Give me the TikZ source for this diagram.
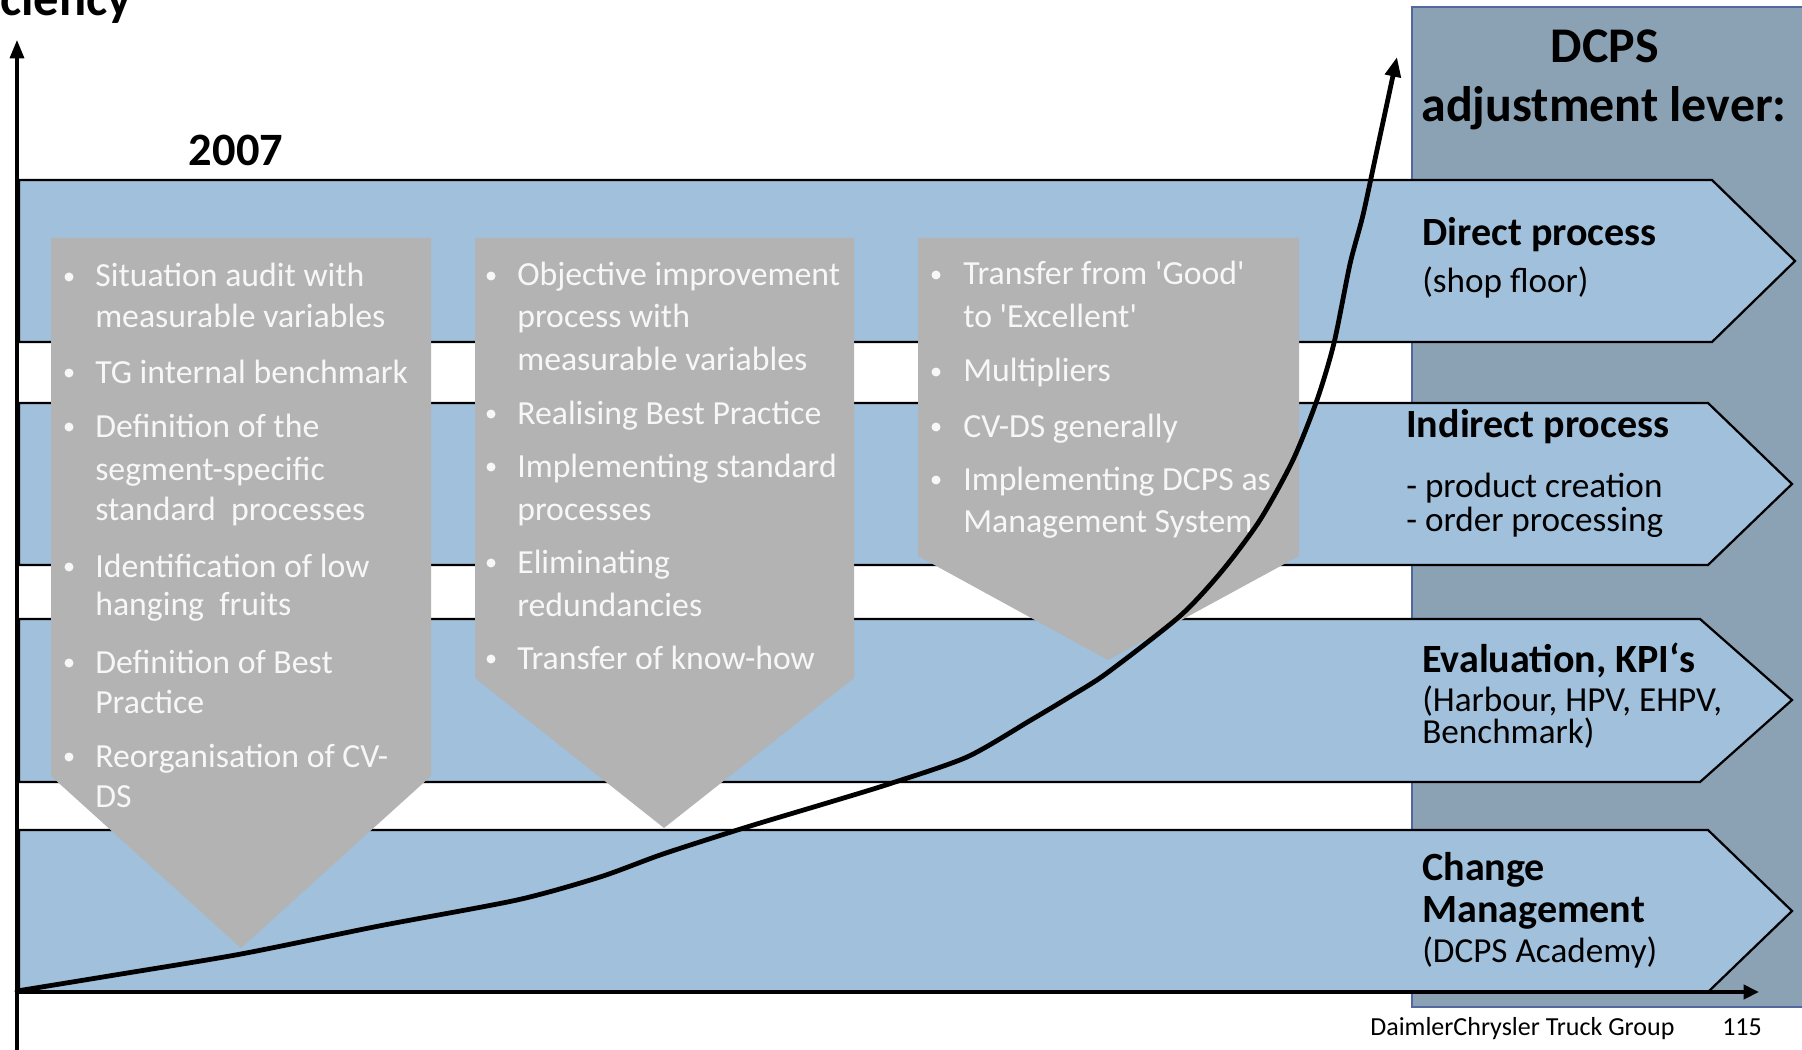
\documentclass[tikz,border=0pt]{standalone}
\usepackage{fontspec}
\setmainfont{Carlito}
\usetikzlibrary{arrows.meta}

\definecolor{bandblue}{HTML}{A0C0DC}
\definecolor{panelblue}{HTML}{8BA2B5}
\definecolor{paneledge}{HTML}{5468A0}
\definecolor{boxgrey}{HTML}{B3B3B3}
\definecolor{boxtext}{HTML}{F7F7F7}

\tikzset{
  band/.style={fill=bandblue, draw=black, line width=1.6pt, line join=miter},
  greybox/.style={fill=boxgrey},
  boxline/.style={anchor=base west, inner sep=0pt, text=boxtext,
    font=\fontsize{24}{28}\selectfont},
  bulletdot/.style={fill=boxtext},
  headline/.style={anchor=base west, inner sep=0pt,
    font=\fontsize{28.5}{34}\selectfont\bfseries},
  subline/.style={anchor=base west, inner sep=0pt,
    font=\fontsize{25}{30}\selectfont},
  titleline/.style={anchor=base, inner sep=0pt,
    font=\fontsize{35.5}{42}\selectfont\bfseries},
  footline/.style={anchor=base west, inner sep=0pt,
    font=\fontsize{18.5}{22}\selectfont},
  axis/.style={line width=2.2pt, -{Triangle[length=13pt,width=10pt]}},
  timeaxis/.style={line width=2.8pt, -{Triangle[length=11pt,width=10pt]}},
  growth/.style={line width=3.4pt, line cap=round, line join=round,
    -{Triangle[length=14pt,width=11pt]}},
}

\begin{document}
\begin{tikzpicture}[x=0.025cm, y=-0.025cm]
\useasboundingbox (0,0) rectangle (1802,1050);
\clip (0,0) rectangle (1802,1050);

% lever panel on the right
\draw[fill=panelblue, draw=paneledge, line width=1.4pt] (1412,7) rectangle (1840,1007);

% the four lever bands
\draw[band] (19,180) -- (1712,180) -- (1795,261) -- (1712,342) -- (19,342) -- cycle;
\draw[band] (19,403) -- (1708,403) -- (1792,484) -- (1708,565) -- (19,565) -- cycle;
\draw[band] (19,619) -- (1700,619) -- (1792,700) -- (1700,782) -- (19,782) -- cycle;
\draw[band] (19,830) -- (1708,830) -- (1792,911) -- (1708,992) -- (19,992) -- cycle;

% grey phase boxes
\fill[greybox] (51,238) -- (431,238) -- (431,776) -- (241,948) -- (51,776) -- cycle;
\fill[greybox] (475,238) -- (854,238) -- (854,678) -- (664,828) -- (475,678) -- cycle;
\fill[greybox] (918,238) -- (1299,238) -- (1299,556) -- (1108,660) -- (918,556) -- cycle;

% phase 1 contents
\foreach \yy/\txt [count=\i] in {
  287/Situation audit with, 327/measurable variables,
  383/TG internal benchmark,
  437/Definition of the, 480/segment-specific, 520/standard\ \ processes,
  577/Identification of low, 615/hanging\ \ fruits,
  673/Definition of Best, 713/Practice,
  767/Reorganisation of CV-, 807/DS}
  \node[boxline] (pa\i) at (95,\yy) {\txt};
\foreach \yy in {287,383,437,577,673,767}
  \fill[bulletdot] (69,\yy-10) circle (4.5);

% phase 2 contents
\foreach \yy/\txt [count=\i] in {
  286/Objective improvement, 327/process with, 370/measurable variables,
  424/Realising Best Practice,
  477/Implementing standard, 520/processes,
  573/Eliminating, 616/redundancies,
  669/Transfer of know-how}
  \node[boxline] (pb\i) at (517,\yy) {\txt};
\foreach \yy in {286,424,477,573,669}
  \fill[bulletdot] (491,\yy-10) circle (4.5);

% phase 3 contents
\foreach \yy/\txt [count=\i] in {
  285/Transfer from \textquotesingle Good\textquotesingle,
  327/to \textquotesingle Excellent\textquotesingle,
  382/Multipliers,
  437/CV-DS generally,
  490/Implementing DCPS as, 532/Management System}
  \node[boxline] (pc\i) at (963,\yy) {\txt};
\foreach \yy in {285,382,437,490}
  \fill[bulletdot] (936,\yy-10) circle (4.5);

% lever labels
\node[headline] (direct) at (1422,246) {Direct process};
\node[subline] (directsub) at (1422,293) {(shop floor)};

\node[headline] (indirect) at (1406,437) {Indirect process};
\node[subline] (indirecta) at (1406,497) {- product creation};
\node[subline] (indirectb) at (1406,531) {- order processing};

\node[headline] (kpi) at (1422,672) {Evaluation, KPI‘s};
\node[subline] (kpia) at (1422,711) {(Harbour, HPV, EHPV,};
\node[subline] (kpib) at (1422,743) {Benchmark)};

\node[headline] (change) at (1422,880) {Change};
\node[headline] (changeb) at (1422,922) {Management};
\node[subline] (changec) at (1422,962) {(DCPS Academy)};

% panel title
\node[titleline] (dcps) at (1605,63) {DCPS};
\node[titleline] (lever) at (1604,122) {adjustment lever:};

% growth curve
\coordinate (gstart) at (17,991);
\coordinate (gend) at (1397,57);
\draw[growth] plot[smooth, tension=0.45] coordinates {
  (gstart) (115,975) (241,954) (379,926) (517,900) (600,877) (663,854)
  (747,827) (827,803) (889,784) (967,757) (1031,720) (1071,696)
  (1107,673) (1180,616) (1222,571) (1260,520) (1293,460) (1317,400)
  (1334,343) (1350,264) (1363,215) (1377,150) (gend)};

% axes
\coordinate (ybottom) at (17,1050);
\coordinate (ytop) at (17,40);
\coordinate (xleft) at (17,992);
\coordinate (xright) at (1759,992);
\draw[axis] (ybottom) -- (ytop);
\draw[timeaxis] (xleft) -- (xright);

% axis captions
\node[font=\fontsize{33}{38}\selectfont\bfseries, anchor=base, inner sep=0pt] (year) at (236,166) {2007};
\node[font=\fontsize{36}{40}\selectfont\bfseries, anchor=base east, inner sep=0pt] (eff) at (132,16) {Efficiency};

% footer
\node[footline] (foot) at (1370,1035) {DaimlerChrysler Truck Group};
\node[footline] (page) at (1722,1035) {115};
\end{tikzpicture}
\end{document}
